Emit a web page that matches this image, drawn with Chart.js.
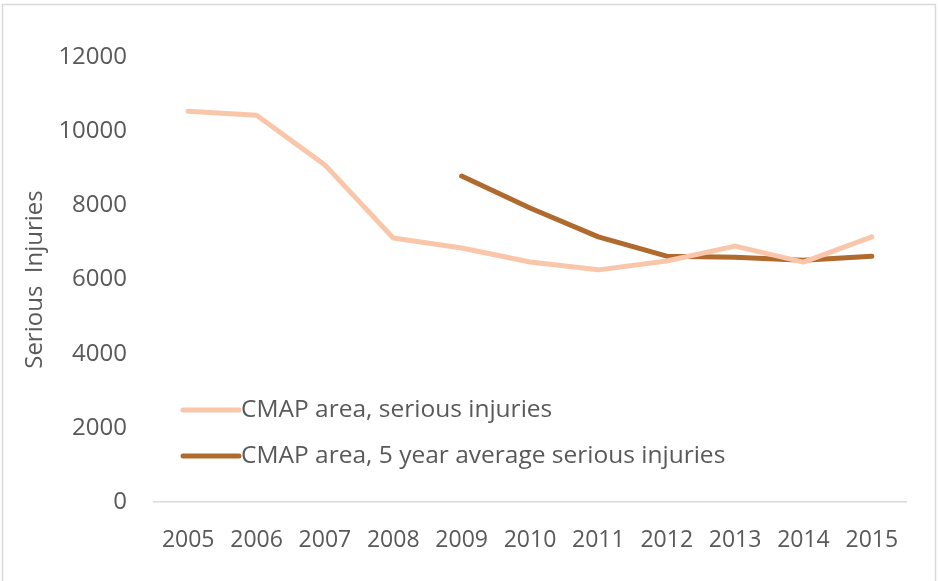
<!DOCTYPE html>
<html>
<head>
<meta charset="utf-8">
<script src="https://cdn.jsdelivr.net/npm/chart.js@4.4.0/dist/chart.umd.min.js"></script>
<style>
  html, body { margin: 0; padding: 0; background: #fff; }
  #wrap { width: 938px; height: 581px; position: relative; }
</style>
</head>
<body>
<div id="wrap"><canvas id="injuryChart" width="938" height="581"></canvas></div>
<script>
// Serious injuries in the CMAP area, yearly counts and 5 year rolling average
const years = ['2005', '2006', '2007', '2008', '2009', '2010', '2011', '2012', '2013', '2014', '2015'];
const seriousInjuries = [10540, 10430, 9090, 7120, 6850, 6470, 6260, 6500, 6900, 6470, 7150];
const fiveYearAverage = [null, null, null, null, 8790, 7930, 7150, 6630, 6600, 6520, 6630];
const yTicks = [0, 2000, 4000, 6000, 8000, 10000, 12000];

const textColor = '#595959';
const fontFamily = "'Open Sans', 'Liberation Sans', sans-serif";

// Frame around the whole chart
const framePlugin = {
    id: 'frame',
    beforeDraw(chart) {
        const ctx = chart.ctx;
        ctx.save();
        ctx.strokeStyle = '#d9d9d9';
        ctx.lineWidth = 1.5;
        ctx.strokeRect(2.5, 4.5, 933, 620);
        ctx.restore();
    }
};

// Legend sits inside the plot, lower left
const insideLegend = {
    id: 'insideLegend',
    afterDraw(chart) {
        const ctx = chart.ctx;
        const x0 = 183, x1 = 239;
        const rows = [410, 456];
        ctx.save();
        ctx.font = '24.5px ' + fontFamily;
        ctx.textBaseline = 'middle';
        chart.data.datasets.forEach(function(ds, i) {
            const y = rows[i];
            ctx.strokeStyle = ds.borderColor;
            ctx.lineWidth = ds.borderWidth;
            ctx.lineCap = 'round';
            ctx.beginPath();
            ctx.moveTo(x0, y);
            ctx.lineTo(x1, y);
            ctx.stroke();
            ctx.fillStyle = textColor;
            ctx.fillText(ds.label, x1 + 2, y);
        });
        ctx.restore();
    }
};

const ctx = document.getElementById('injuryChart').getContext('2d');
const injuryChart = new Chart(ctx, {
    type: 'line',
    data: {
        labels: years,
        datasets: [{
            label: 'CMAP area, serious injuries',
            data: seriousInjuries,
            borderColor: '#f9c6aa',
            borderWidth: 5,
            pointRadius: 0,
            tension: 0,
            borderCapStyle: 'round',
            borderJoinStyle: 'round'
        }, {
            label: 'CMAP area, 5 year average serious injuries',
            data: fiveYearAverage,
            borderColor: '#b06a2e',
            borderWidth: 5,
            pointRadius: 0,
            tension: 0,
            spanGaps: false,
            borderCapStyle: 'round',
            borderJoinStyle: 'round'
        }]
    },
    options: {
        responsive: false,
        animation: false,
        layout: {
            padding: { left: 0, top: 57, right: 32, bottom: 0 }
        },
        plugins: {
            legend: { display: false },
            tooltip: { enabled: false }
        },
        scales: {
            x: {
                offset: true,
                grid: { display: false, drawTicks: false },
                border: { display: true, color: '#d9d9d9', width: 1.5 },
                ticks: {
                    color: textColor,
                    padding: 25,
                    maxRotation: 0,
                    autoSkip: false,
                    font: { family: fontFamily, size: 23 }
                },
                afterFit(scale) { scale.height = 79; }
            },
            y: {
                min: 0,
                max: 12000,
                grid: { display: false, drawTicks: false },
                border: { display: false },
                afterBuildTicks(scale) {
                    scale.ticks = yTicks.map(v => ({ value: v }));
                },
                ticks: {
                    color: textColor,
                    padding: 27,
                    font: { family: fontFamily, size: 24 },
                    callback: function(value) {
                        return String(value);
                    }
                },
                title: {
                    display: true,
                    text: 'Serious  Injuries',
                    color: textColor,
                    padding: { top: 21, bottom: 0 },
                    font: { family: fontFamily, size: 24 }
                },
                afterFit(scale) { scale.width = 154; }
            }
        }
    },
    plugins: [framePlugin, insideLegend]
});
</script>
</body>
</html>
